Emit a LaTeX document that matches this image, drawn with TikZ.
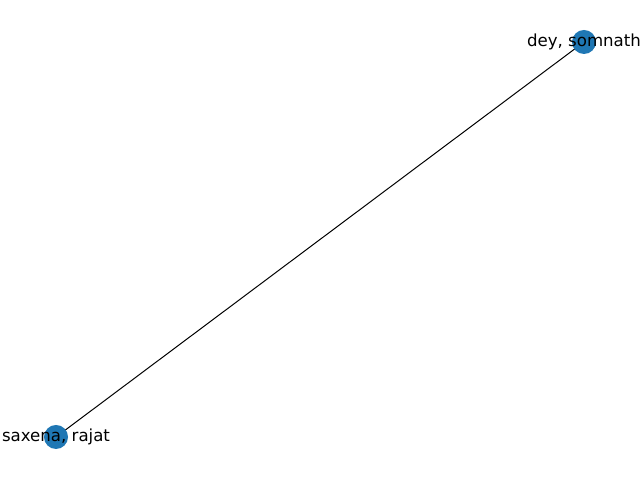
\documentclass[tikz,border=0pt]{standalone}
\usepackage{fontspec}
\setmainfont{DejaVu Sans}
\definecolor{nodeblue}{HTML}{1F77B4}
\tikzset{
  person/.style={circle, fill=nodeblue, minimum size=0.24in, inner sep=0pt},
  namelabel/.style={font=\fontsize{12pt}{14pt}\selectfont, inner sep=0pt},
  link/.style={draw=black, line width=0.72pt}
}
\begin{document}
\begin{tikzpicture}[x=0.01in, y=0.01in]
\useasboundingbox (0,0) rectangle (640,480);

% anchor points
\coordinate (deypos) at (584,438);
\coordinate (saxenapos) at (56,43);

% edge
\draw[link] (saxenapos) -- (deypos);

% nodes
\node[person] (dey) at (deypos) {};
\node[person] (saxena) at (saxenapos) {};

% labels
\node[namelabel] (deylabel) at (dey.center) {dey, somnath};
\node[namelabel] (saxenalabel) at (saxena.center) {saxena, rajat};
\end{tikzpicture}
\end{document}
